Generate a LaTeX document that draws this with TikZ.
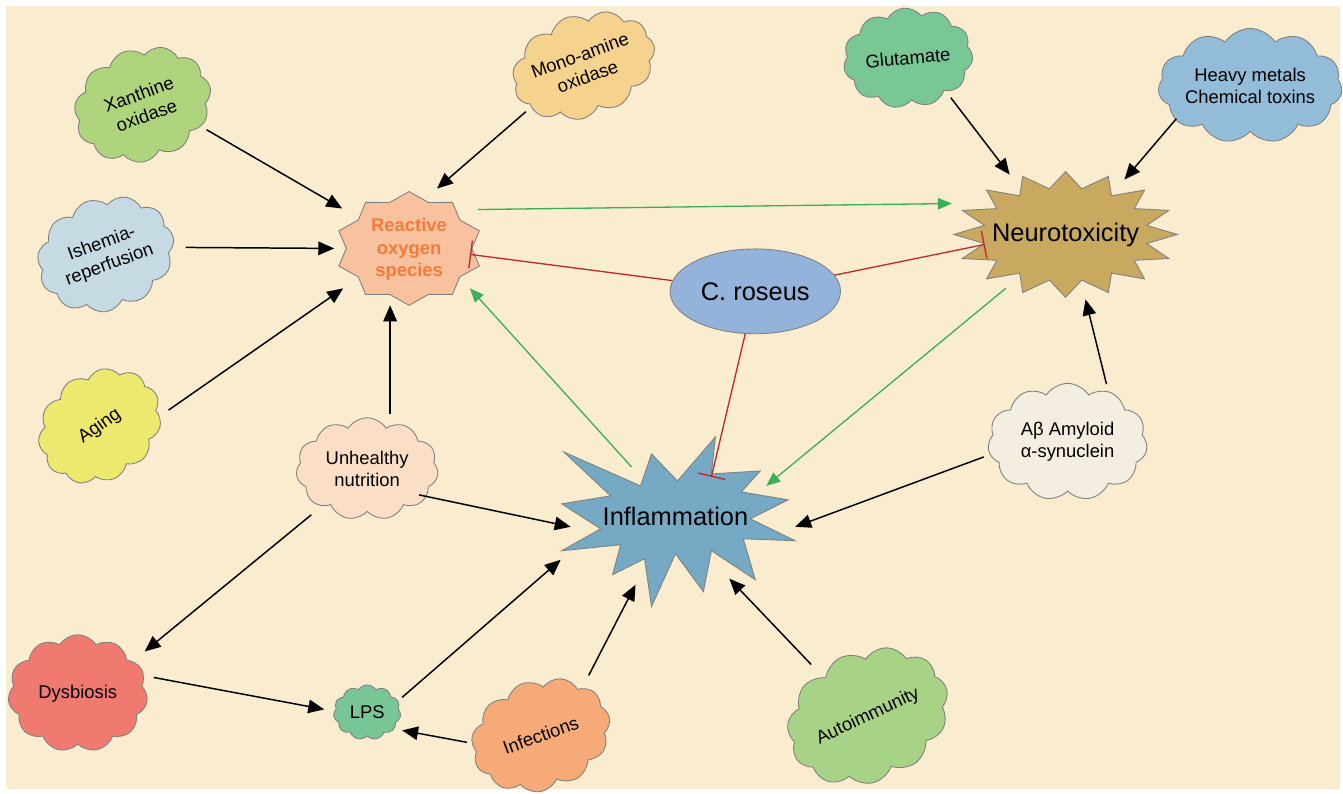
\documentclass[tikz,border=0pt]{standalone}
\usepackage{fontspec}
\setmainfont{Liberation Sans}
\usetikzlibrary{arrows.meta,shapes.symbols,shapes.geometric,calc}

\definecolor{bgcol}{HTML}{FAEDCF}
\definecolor{xancol}{HTML}{AED47E}
\definecolor{monocol}{HTML}{F5D28D}
\definecolor{glucol}{HTML}{79C795}
\definecolor{heavycol}{HTML}{93BCD8}
\definecolor{ischcol}{HTML}{C5DAE3}
\definecolor{roscol}{HTML}{F7C29D}
\definecolor{rostext}{HTML}{F47B3B}
\definecolor{neurocol}{HTML}{C9A860}
\definecolor{croscol}{HTML}{93B3DB}
\definecolor{inflcol}{HTML}{75A9C4}
\definecolor{agecol}{HTML}{EDE96E}
\definecolor{unhcol}{HTML}{FADFC6}
\definecolor{abcol}{HTML}{F3EEDF}
\definecolor{dyscol}{HTML}{F07A70}
\definecolor{lpscol}{HTML}{78C595}
\definecolor{infcol}{HTML}{F5AA78}
\definecolor{autocol}{HTML}{A8D286}
\definecolor{upgreen}{HTML}{3DAE5A}
\definecolor{inhred}{HTML}{C0272D}

\begin{document}
\begin{tikzpicture}[
    x=0.2mm, y=-0.2mm,
    font=\fontsize{10.5}{12.8}\selectfont,
    puff/.style={
        cloud,
        cloud puffs=11,
        cloud puff arc=115,
        cloud ignores aspect,
        draw=black!50,
        line width=0.5pt,
        align=center,
        inner sep=0pt
    },
    spot/.style={
        ellipse,
        align=center,
        inner sep=0pt
    },
    outline/.style={draw=black!50, line width=0.5pt},
    big/.style={font=\fontsize{14.5}{17}\selectfont},
    arr/.style={-{Triangle[length=3.2mm,width=2.7mm]}, line width=0.85pt},
    promote/.style={-{Triangle[length=2.8mm,width=2.3mm]}, line width=0.75pt,
        draw=upgreen, fill=upgreen},
    inh/.style={-{Bar[width=5.6mm]}, line width=0.75pt, draw=inhred}
]

% background
\fill[white] (0,0) rectangle (1343,791);
\fill[bgcol] (6,6) rectangle (1343,791);

% star outlines
\draw[outline, fill=roscol] plot[samples=21, domain=0:20, variable=\k]
    ({410+74*(1-0.15*mod(round(\k),2))*cos(90+18*\k)},
     {249-57*(1-0.15*mod(round(\k),2))*sin(90+18*\k)}) -- cycle;
\draw[outline, fill=neurocol] plot[samples=33, domain=0:32, variable=\k]
    ({1068+112*(1-0.26*mod(round(\k),2))*cos(90+11.25*\k)},
     {235-63*(1-0.26*mod(round(\k),2))*sin(90+11.25*\k)}) -- cycle;
\draw[outline, fill=inflcol] (565,453) -- (642,487) -- (653,455) -- (679,482)
    -- (717,438) -- (713,475) -- (762,472) -- (743,493) -- (790,501)
    -- (752,520) -- (797,542) -- (745,540) -- (757,581) -- (713,552)
    -- (705,593) -- (677,555) -- (653,608) -- (646,560) -- (614,576)
    -- (622,546) -- (563,552) -- (602,530) -- (563,505) -- (612,497) -- cycle;

% central nodes
\node[spot, minimum width=32mm, minimum height=25mm, text=rostext,
    font=\fontsize{10.5}{12.8}\selectfont\bfseries] (ros) at (410,250)
    {Reactive\\oxygen\\species};
\node[spot, big, minimum width=48mm, minimum height=32mm] (neuro) at (1068,235)
    {Neurotoxicity};
\node[spot, big, minimum width=48mm, minimum height=32mm] (infl) at (677,518)
    {Inflammation};
\node[ellipse, outline, fill=croscol, big, minimum width=32.2mm,
    minimum height=17mm] (cros) at (757,292) {C. roseus};

% clouds
\node[puff, fill=xancol, minimum width=28mm, minimum height=22.5mm,
    rotate=20] (xanth) at (143,105) {Xanthine\\oxidase};
\node[puff, fill=monocol, minimum width=28mm, minimum height=20.5mm,
    rotate=20] (mono) at (585,66) {Mono-amine\\oxidase};
\node[puff, fill=glucol, minimum width=26mm, minimum height=20mm,
    rotate=5] (glut) at (910,58) {Glutamate};
\node[puff, fill=heavycol, minimum width=36.5mm, minimum height=23mm]
    (heavy) at (1253,86) {Heavy metals\\Chemical toxins};
\node[puff, fill=ischcol, minimum width=28mm, minimum height=22.5mm,
    rotate=20] (isch) at (106,255) {Ishemia-\\reperfusion};
\node[puff, fill=agecol, minimum width=26mm, minimum height=21.5mm,
    rotate=35] (aging) at (100,427) {Aging};
\node[puff, fill=unhcol, minimum width=28.5mm, minimum height=20.5mm]
    (unh) at (368,470) {Unhealthy\\nutrition};
\node[puff, fill=abcol, minimum width=32mm, minimum height=23.5mm]
    (abeta) at (1070,443) {Aβ Amyloid\\α-synuclein};
\node[puff, fill=dyscol, minimum width=28mm, minimum height=23.5mm]
    (dys) at (78,695) {Dysbiosis};
\node[puff, fill=lpscol, minimum width=13.5mm, minimum height=11mm]
    (lps) at (368,714) {LPS};
\node[puff, fill=infcol, minimum width=28.5mm, minimum height=22mm,
    rotate=20] (inf) at (542,737) {Infections};
\node[puff, fill=autocol, minimum width=33.5mm, minimum height=26mm,
    rotate=25] (auto) at (870,718) {Autoimmunity};

% black arrows
\draw[arr] ($(xanth)+(64,25)$) -- ($(ros)+(-67,-41)$);
\draw[arr] ($(mono)+(-58,46)$) -- ($(ros)+(28,-61)$);
\draw[arr] ($(isch)+(80,-7)$) -- ($(ros)+(-75,-1)$);
\draw[arr] ($(aging)+(69,-16)$) -- ($(ros)+(-66,39)$);
\draw[arr] ($(unh)+(23,-55)$) -- ($(ros)+(-19,56)$);
\draw[arr] ($(unh)+(52,26)$) -- ($(infl)+(-105,10)$);
\draw[arr] ($(unh)+(-56,46)$) -- ($(dys)+(67,-42)$);
\draw[arr] ($(dys)+(76,-16)$) -- ($(lps)+(-43,-3)$);
\draw[arr] ($(lps)+(35,-15)$) -- ($(infl)+(-115,43)$);
\draw[arr] ($(inf)+(-74,7)$) -- ($(lps)+(35,18)$);
\draw[arr] ($(inf)+(48,-60)$) -- ($(infl)+(-40,68)$);
\draw[arr] ($(auto)+(-57,-52)$) -- ($(infl)+(54,62)$);
\draw[arr] ($(abeta)+(-84,15)$) -- ($(infl)+(120,10)$);
\draw[arr] ($(abeta)+(39,-58)$) -- ($(neuro)+(20,65)$);
\draw[arr] ($(glut)+(43,40)$) -- ($(neuro)+(-56,-60)$);
\draw[arr] ($(heavy)+(-74,33)$) -- ($(neuro)+(59,-55)$);

% green arrows
\draw[promote] ($(ros)+(69,-40)$) -- ($(neuro)+(-114,-31)$);
\draw[promote] ($(infl)+(-44,-50)$) -- ($(ros)+(61,39)$);
\draw[promote] ($(neuro)+(-60,54)$) -- ($(infl)+(91,-31)$);

% inhibition
\draw[inh] (cros) -- ($(ros)+(61,5)$);
\draw[inh] (cros) -- ($(neuro)+(-81,10)$);
\draw[inh] (cros) -- ($(infl)+(36,-40)$);

\end{tikzpicture}
\end{document}
